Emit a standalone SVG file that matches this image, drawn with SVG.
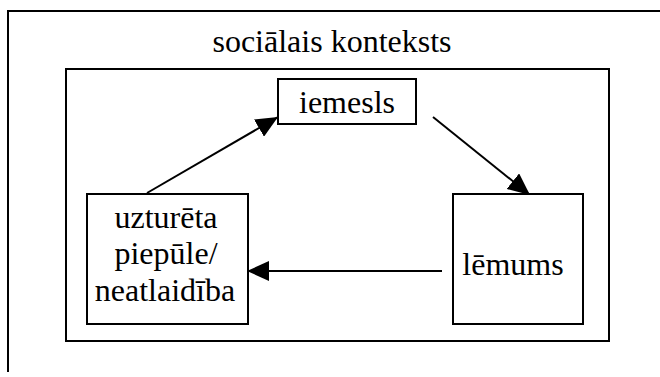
<svg xmlns="http://www.w3.org/2000/svg" width="660" height="377" viewBox="0 0 660 377">
  <style>
    .frame { fill: none; stroke: #000; stroke-width: 2; }
    .box { fill: #fff; stroke: #000; stroke-width: 2; }
    text { font-family: "Liberation Serif", "Times New Roman", serif; font-size: 32px; fill: #000; text-anchor: middle; }
    .edge { fill: none; stroke: #000; stroke-width: 2; }
  </style>
  <defs>
    <marker id="arrow" markerUnits="userSpaceOnUse" markerWidth="24" markerHeight="20" refX="22" refY="10" orient="auto">
      <path d="M0,0 L22,10 L0,20 Z" fill="#000"/>
    </marker>
  </defs>

  <!-- outer context frame: top and left edges -->
  <g id="context">
    <path class="frame" d="M660,11 L8,11 L8,372"/>
    <text x="332" y="52">sociālais konteksts</text>
  </g>

  <!-- inner frame -->
  <rect class="frame" x="66" y="69" width="543" height="272"/>

  <g id="connectors">
    <line class="edge" x1="147" y1="193" x2="278" y2="117" marker-end="url(#arrow)"/>
    <line class="edge" x1="433" y1="117" x2="530" y2="195" marker-end="url(#arrow)"/>
    <line class="edge" x1="442" y1="271" x2="247" y2="271" marker-end="url(#arrow)"/>
  </g>

  <g id="iemesls">
    <rect class="box" x="278" y="79" width="138" height="45"/>
    <text x="347" y="113">iemesls</text>
  </g>

  <g id="piepule">
    <rect class="box" x="87" y="194" width="161" height="130"/>
    <text x="166" y="228">uzturēta</text>
    <text x="166" y="264">piepūle/</text>
    <text x="165" y="301">neatlaidība</text>
  </g>

  <g id="lemums">
    <rect class="box" x="453" y="194" width="130" height="130"/>
    <text x="513" y="275">lēmums</text>
  </g>
</svg>
